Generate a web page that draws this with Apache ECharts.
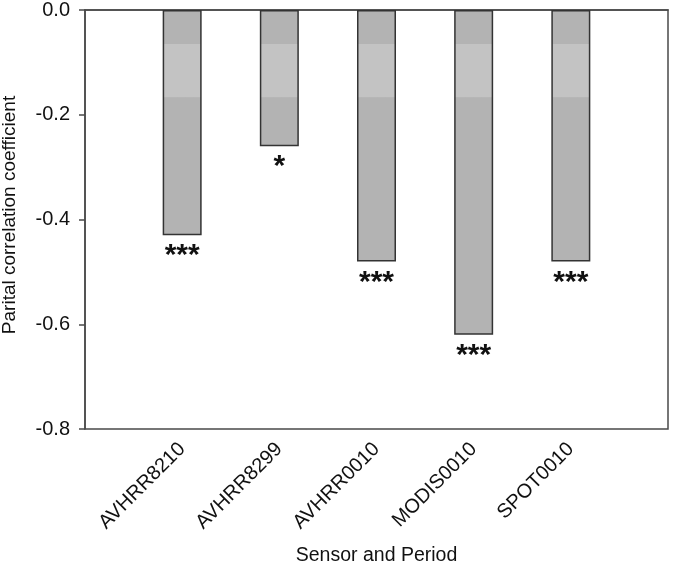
<!DOCTYPE html>
<html><head><meta charset="utf-8">
<script src="https://cdn.jsdelivr.net/npm/echarts@6/dist/echarts.min.js"></script>
<style>html,body{margin:0;padding:0;background:#fff}#c{width:677px;height:576px}</style>
</head><body><div id="c"></div>
<script>
const categories = ['AVHRR8210', 'AVHRR8299', 'AVHRR0010', 'MODIS0010', 'SPOT0010'];
const values = [-0.43, -0.26, -0.48, -0.62, -0.48];
const significance = ['***', '*', '***', '***', '***'];
const yTicks = [-0.8, -0.6, -0.4, -0.2, 0.0];

const axisCats = [''].concat(categories, ['']);
const seriesData = [null].concat(values.map((v, i) => ({value: v, sig: significance[i]})), [null]);

const chart = echarts.init(document.getElementById('c'), null, {renderer: 'canvas'});
const font = 'Liberation Sans, Arial, sans-serif';
const lineCol = '#4a4a4a';
chart.setOption({
  animation: false,
  backgroundColor: '#fff',
  grid: {left: 85, right: 9, top: 10, bottom: 147, outerBoundsMode: 'none', containLabel: false,
    show: true, borderColor: lineCol, borderWidth: 1.5, backgroundColor: 'transparent'},
  xAxis: {
    type: 'category', data: axisCats, boundaryGap: false,
    name: 'Sensor and Period', nameLocation: 'middle', nameGap: 117,
    nameTextStyle: {fontFamily: font, fontSize: 19.5, color: '#111'},
    axisLine: {show: true, lineStyle: {color: lineCol, width: 1.5}},
    axisTick: {show: true, length: 6, lineStyle: {color: lineCol, width: 1.5}, interval: (i) => i > 0 && i < axisCats.length - 1},
    axisLabel: {rotate: 45, fontFamily: font, fontSize: 20, color: '#111', margin: 17, interval: 0},
    splitLine: {show: false}
  },
  yAxis: {
    type: 'value', min: -0.8, max: 0, interval: 0.2,
    name: 'Parital correlation coefficient', nameLocation: 'middle', nameGap: 66, nameRotate: 90,
    nameTextStyle: {fontFamily: font, fontSize: 19, color: '#111', padding: [0, 0, 0, 9]},
    axisLine: {show: true, lineStyle: {color: lineCol, width: 1.5}},
    axisTick: {show: true, length: 6, lineStyle: {color: lineCol, width: 1.5}},
    axisLabel: {fontFamily: font, fontSize: 20, color: '#111', margin: 15,
      formatter: (v) => { const t = yTicks.find(x => Math.abs(x - v) < 1e-9); return (t === undefined ? v : t).toFixed(1); }},
    splitLine: {show: false}
  },
  series: [{
    type: 'bar', data: seriesData, barWidth: 39,
    itemStyle: {
      color: {type: 'linear', x: 0, y: 10, x2: 0, y2: 429, global: true,
        colorStops: [
          {offset: 0, color: '#b3b3b3'}, {offset: 0.081, color: '#b3b3b3'},
          {offset: 0.082, color: '#c3c3c3'}, {offset: 0.208, color: '#c3c3c3'},
          {offset: 0.209, color: '#b3b3b3'}, {offset: 1, color: '#b3b3b3'}]},
      borderColor: '#333', borderWidth: 1.5
    },
    label: {show: true, position: 'bottom', distance: 6,
      formatter: (p) => p.data && p.data.sig ? p.data.sig : '',
      fontFamily: font, fontSize: 30, fontWeight: 'bold', color: '#111'}
  }]
});
</script></body></html>
